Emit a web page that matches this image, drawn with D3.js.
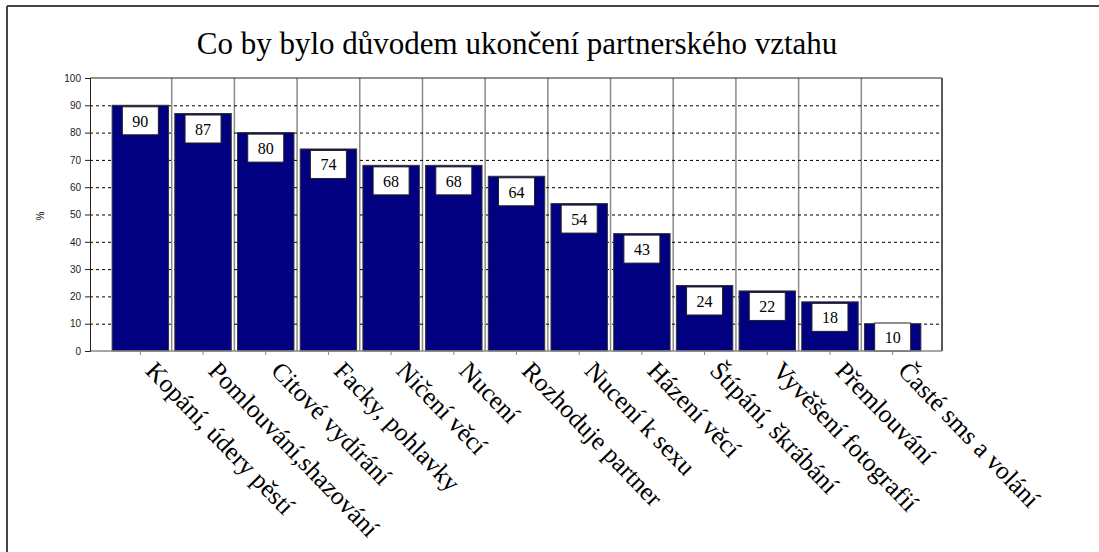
<!DOCTYPE html>
<html>
<head>
<meta charset="utf-8">
<script src="https://cdn.jsdelivr.net/npm/d3@7"></script>
<style>
  body { margin: 0; background: #fff; }
  svg { display: block; }
  .serif { font-family: "Liberation Serif", "DejaVu Serif", serif; }
  .sans { font-family: "Liberation Sans", Arial, sans-serif; }
</style>
</head>
<body>
<svg id="chart" width="1099" height="552"></svg>
<script>
var categories = ["Kopání, údery pěstí", "Pomlouvání,shazování", "Citové vydírání", "Facky, pohlavky",
    "Ničení věcí", "Nucení", "Rozhoduje partner", "Nucení k sexu", "Házení věcí",
    "Štípání, škrábání", "Vyvěšení fotografií", "Přemlouvání", "Časté sms a volání"];
var values = [90, 87, 80, 74, 68, 68, 64, 54, 43, 24, 22, 18, 10];
var yTicks = [0, 10, 20, 30, 40, 50, 60, 70, 80, 90, 100];
var title = "Co by bylo důvodem ukončení partnerského vztahu";

var svg = d3.select('#chart');
var plot = { left: 90, right: 942, top: 78, bottom: 351 };

// page frame
svg.append("line").attr("x1", 7).attr("x2", 1099).attr("y1", 6).attr("y2", 6)
    .attr("stroke", "#444").attr("stroke-width", 2);
svg.append("line").attr("x1", 7).attr("x2", 7).attr("y1", 6).attr("y2", 552)
    .attr("stroke", "#444").attr("stroke-width", 2);

svg.append("text")
    .attr("class", "serif")
    .attr("x", 517).attr("y", 54)
    .attr("text-anchor", "middle")
    .style("font-size", "31px")
    .text(title);

var x = d3.scaleBand()
    .domain(categories)
    .range([109, 924])
    .paddingInner(0.1)
    .paddingOuter(0.05);

var y = d3.scaleLinear().domain([0, 100]).range([plot.bottom, plot.top]);

var g = svg.append("g");

// vertical separators between categories
g.selectAll(".sep")
    .data(categories.slice(1))
    .enter().append("line")
    .attr("class", "sep")
    .attr("x1", function (d) { return x(d) - x.step() * x.paddingInner() / 2; })
    .attr("x2", function (d) { return x(d) - x.step() * x.paddingInner() / 2; })
    .attr("y1", plot.top).attr("y2", plot.bottom)
    .attr("stroke", "#8a8a8a").attr("stroke-width", 1.5);

// dashed gridlines
g.selectAll(".grid")
    .data(yTicks.filter(function (d) { return d > 0 && d < 100; }))
    .enter().append("line")
    .attr("class", "grid")
    .attr("x1", plot.left).attr("x2", plot.right)
    .attr("y1", function (d) { return y(d) + 0.5; })
    .attr("y2", function (d) { return y(d) + 0.5; })
    .attr("stroke", "#000").attr("stroke-dasharray", "3,3");

// bars
g.selectAll(".bar")
    .data(values)
    .enter().append("rect")
    .attr("class", "bar")
    .attr("x", function (d, i) { return x(categories[i]); })
    .attr("y", function (d) { return y(d); })
    .attr("width", x.bandwidth())
    .attr("height", function (d) { return plot.bottom - y(d); })
    .attr("fill", "#000080")
    .attr("stroke", "#333").attr("stroke-width", 1);

// value boxes
var lab = g.selectAll(".lab")
    .data(values)
    .enter().append("g")
    .attr("class", "lab")
    .attr("transform", function (d, i) {
        var cx = x(categories[i]) + x.bandwidth() / 2;
        var top = Math.min(y(d) + 1.5, plot.bottom - 28);
        return "translate(" + cx + "," + top + ")";
    });
lab.append("rect")
    .attr("x", -18).attr("y", 0).attr("width", 36).attr("height", 28)
    .attr("fill", "#fff").attr("stroke", "#222").attr("stroke-width", 1);
lab.append("text")
    .attr("class", "serif")
    .attr("y", 20)
    .attr("text-anchor", "middle")
    .style("font-size", "16px")
    .text(function (d) { return d; });

// plot border
g.append("line").attr("x1", plot.left).attr("x2", plot.right).attr("y1", plot.top).attr("y2", plot.top)
    .attr("stroke", "#222");
g.append("line").attr("x1", plot.right).attr("x2", plot.right).attr("y1", plot.top).attr("y2", plot.bottom)
    .attr("stroke", "#222").attr("stroke-width", 1.5);
g.append("line").attr("x1", plot.left).attr("x2", plot.right).attr("y1", plot.bottom).attr("y2", plot.bottom)
    .attr("stroke", "#888").attr("stroke-width", 1.5);

// y axis
var yAxis = svg.append("g")
    .attr("transform", "translate(" + plot.left + ",0)")
    .call(d3.axisLeft(y).tickValues(yTicks).tickSize(5).tickPadding(4));
yAxis.select(".domain").attr("stroke", "#222");
yAxis.selectAll("line").attr("stroke", "#222");
yAxis.selectAll("text")
    .attr("class", "sans")
    .style("font-size", "10px")
    .attr("fill", "#222");

svg.append("text")
    .attr("class", "sans")
    .attr("transform", "translate(44,216) rotate(-90)")
    .attr("text-anchor", "middle")
    .style("font-size", "10px")
    .text("%");

// x ticks and rotated labels
var xa = svg.append("g");
xa.selectAll(".xt")
    .data(categories)
    .enter().append("line")
    .attr("x1", function (d) { return x(d) + x.bandwidth() / 2; })
    .attr("x2", function (d) { return x(d) + x.bandwidth() / 2; })
    .attr("y1", plot.bottom).attr("y2", plot.bottom + 4)
    .attr("stroke", "#888");
xa.selectAll(".xl")
    .data(categories)
    .enter().append("text")
    .attr("class", "serif")
    .attr("transform", function (d) {
        return "translate(" + (x(d) + x.bandwidth() / 2 + 4) + "," + (plot.bottom + 21) + ") rotate(46)";
    })
    .style("font-size", "25.5px")
    .text(function (d) { return d; });
</script>
</body>
</html>
